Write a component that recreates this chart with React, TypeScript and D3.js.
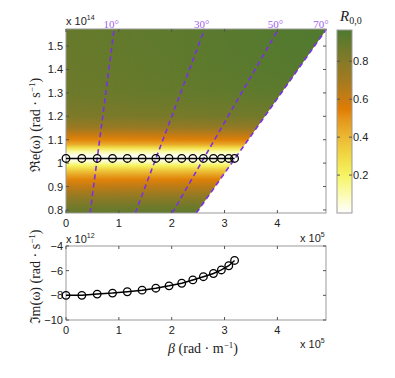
import React, { useRef, useEffect } from 'react';
import * as d3 from 'd3';

// beta in 1e5 rad/m, omega in 1e14 rad/s
const betaPts = [0, 0.30, 0.59, 0.88, 1.16, 1.44, 1.70, 1.95, 2.19, 2.40, 2.60, 2.79, 2.94, 3.08, 3.19];
const reOmega = [1.02, 1.02, 1.02, 1.02, 1.02, 1.02, 1.02, 1.02, 1.02, 1.02, 1.02, 1.02, 1.02, 1.02, 1.02];
const imOmega = [-8.0, -8.0, -7.9, -7.82, -7.71, -7.58, -7.42, -7.23, -7.02, -6.75, -6.49, -6.23, -5.94, -5.6, -5.17];

// reflectance profile R(omega), read at the left and right of the map
const profOmega = [0.787, 0.82, 0.86, 0.9, 0.93, 0.95, 0.97, 0.99, 1.005, 1.02, 1.035, 1.05, 1.065, 1.08, 1.1, 1.12, 1.15, 1.2, 1.3, 1.4, 1.573];
const profLeft = [0.9, 0.84, 0.74, 0.62, 0.53, 0.45, 0.34, 0.2, 0.08, 0.0, 0.03, 0.12, 0.27, 0.43, 0.53, 0.6, 0.72, 0.82, 0.87, 0.88, 0.89];
const profRight = [0.93, 0.88, 0.78, 0.66, 0.56, 0.47, 0.36, 0.22, 0.09, 0.0, 0.03, 0.13, 0.29, 0.45, 0.56, 0.64, 0.76, 0.87, 0.93, 0.95, 0.96];

const angles = [10, 30, 50, 70];
const xTicks = [0, 1, 2, 3, 4];
const yTopTicks = [0.8, 0.9, 1, 1.1, 1.2, 1.3, 1.4, 1.5];
const yBotTicks = [-10, -8, -6, -4];
const cbTicks = [0.2, 0.4, 0.6, 0.8];
const cbStops = [0, 0.1, 0.2, 0.3, 0.4, 0.5, 0.55, 0.6, 0.7, 0.8, 0.9, 0.965];
const cbColors = ['#ffffff', '#fbfbb0', '#f6f462', '#f1d944', '#ebb834', '#e49418', '#e07c02', '#c97c12', '#a37a20', '#857a28', '#647a2c', '#4e7a30'];

const C = 0.2998; // c in (1e14 rad/s)/(1e5 rad/m)

export default function App() {
  const ref = useRef<SVGSVGElement>(null);

  useEffect(() => {
    const svg = d3.select(ref.current);
    svg.selectAll('*').remove();
    const sans = 'Liberation Sans, Arial, sans-serif';
    const serif = 'Liberation Serif, DejaVu Serif, serif';
    const purple = '#7b30e6';

    const x = d3.scaleLinear().domain([0, 4.92]).range([66, 326]);
    const yT = d3.scaleLinear().domain([0.787, 1.573]).range([213, 29]);
    const yB = d3.scaleLinear().domain([-10, -4]).range([320, 246]);
    const cb = d3.scaleLinear().domain([0, 0.965]).range([213, 30]);
    const color = d3.scaleLinear<string>().domain(cbStops).range(cbColors).clamp(true);
    const betaAt = (w: number, th: number) => (w * Math.sin((th * Math.PI) / 180)) / C;

    const defs = svg.append('defs');
    const [w0, w1] = yT.domain();

    // vertical gradients for the map
    const mkGrad = (id: string, prof: number[]) => {
      const g = defs.append('linearGradient').attr('id', id)
        .attr('gradientUnits', 'userSpaceOnUse')
        .attr('x1', 0).attr('x2', 0).attr('y1', yT(w1)).attr('y2', yT(w0));
      profOmega.slice().reverse().forEach((w, i) => {
        const v = prof[prof.length - 1 - i];
        g.append('stop').attr('offset', (yT(w) - yT(w1)) / (yT(w0) - yT(w1))).attr('stop-color', color(v));
      });
    };
    mkGrad('gL', profLeft);
    mkGrad('gR', profRight);

    const hg = defs.append('linearGradient').attr('id', 'hmask')
      .attr('gradientUnits', 'userSpaceOnUse')
      .attr('x1', x(0)).attr('x2', x(4.92)).attr('y1', 0).attr('y2', 0);
    hg.append('stop').attr('offset', 0).attr('stop-color', '#fff').attr('stop-opacity', 0);
    hg.append('stop').attr('offset', 1).attr('stop-color', '#fff').attr('stop-opacity', 1);
    defs.append('mask').attr('id', 'mR').append('rect')
      .attr('x', x(0)).attr('y', yT(w1)).attr('width', x(4.92) - x(0)).attr('height', yT(w0) - yT(w1))
      .attr('fill', 'url(#hmask)');

    const poly = [
      [x(0), yT(w0)], [x(0), yT(w1)],
      [x(betaAt(w1, 70)), yT(w1)], [x(betaAt(w0, 70)), yT(w0)],
    ];
    defs.append('clipPath').attr('id', 'cpoly').append('polygon').attr('points', poly.map(p => p.join(',')).join(' '));
    defs.append('clipPath').attr('id', 'cplot').append('rect')
      .attr('x', x(0)).attr('y', yT(w1) - 1).attr('width', x(4.92) - x(0) + 1).attr('height', yT(w0) - yT(w1) + 1);

    const map = svg.append('g').attr('clip-path', 'url(#cpoly)');
    map.append('rect').attr('x', x(0)).attr('y', yT(w1)).attr('width', x(4.92) - x(0)).attr('height', yT(w0) - yT(w1)).attr('fill', 'url(#gL)');
    map.append('rect').attr('x', x(0)).attr('y', yT(w1)).attr('width', x(4.92) - x(0)).attr('height', yT(w0) - yT(w1)).attr('fill', 'url(#gR)').attr('mask', 'url(#mR)');

    // light lines
    const lines = svg.append('g').attr('clip-path', 'url(#cplot)');
    angles.forEach(a => {
      lines.append('line')
        .attr('x1', x(betaAt(w0, a))).attr('y1', yT(w0))
        .attr('x2', x(betaAt(w1, a))).attr('y2', yT(w1))
        .attr('stroke', purple).attr('stroke-width', 1.6).attr('stroke-dasharray', '5,3.5');
      svg.append('text').attr('x', Math.min(x(betaAt(w1, a)) - 3, 321)).attr('y', 27.5)
        .attr('text-anchor', 'middle').attr('font-family', serif).attr('font-size', 11)
        .attr('fill', '#a060ee').text(`${a}°`);
    });

    // frames, ticks, labels
    const frame = (top: number, bottom: number, yScale: d3.ScaleLinear<number, number>, yt: number[], fmt: (v: number) => string) => {
      svg.append('rect').attr('x', x(0)).attr('y', top).attr('width', x(4.92) - x(0)).attr('height', bottom - top)
        .attr('fill', 'none').attr('stroke', '#999').attr('stroke-width', 1);
      xTicks.forEach(t => {
        svg.append('line').attr('x1', x(t)).attr('x2', x(t)).attr('y1', bottom).attr('y2', bottom - 3).attr('stroke', '#555');
        svg.append('line').attr('x1', x(t)).attr('x2', x(t)).attr('y1', top).attr('y2', top + 3).attr('stroke', '#555');
        svg.append('text').attr('x', x(t)).attr('y', bottom + 14).attr('text-anchor', 'middle')
          .attr('font-family', sans).attr('font-size', 11).attr('fill', '#222').text(t);
      });
      yt.forEach(t => {
        svg.append('line').attr('x1', x(0)).attr('x2', x(0) + 3).attr('y1', yScale(t)).attr('y2', yScale(t)).attr('stroke', '#555');
        svg.append('line').attr('x1', x(4.92)).attr('x2', x(4.92) - 3).attr('y1', yScale(t)).attr('y2', yScale(t)).attr('stroke', '#555');
        svg.append('text').attr('x', x(0) - 3).attr('y', yScale(t) + 4).attr('text-anchor', 'end')
          .attr('font-family', sans).attr('font-size', 11).attr('fill', '#222').text(fmt(t));
      });
    };
    frame(29, 213, yT, yTopTicks, v => String(v));
    frame(246, 320, yB, yBotTicks, v => String(v).replace('-', '−'));

    const expo = (xx: number, yy: number, p: string) => {
      const t = svg.append('text').attr('x', xx).attr('y', yy).attr('font-family', sans).attr('font-size', 11).attr('fill', '#222');
      t.append('tspan').text('x 10');
      t.append('tspan').attr('font-size', 7).attr('dy', -5).text(p);
    };
    expo(66, 25, '14');
    expo(300, 242, '5');
    expo(66, 243, '12');
    expo(300, 348, '5');

    // data lines
    const lineTop = d3.line<number>().x((d, i) => x(betaPts[i])).y(d => yT(d));
    const lineBot = d3.line<number>().x((d, i) => x(betaPts[i])).y(d => yB(d));
    [[reOmega, lineTop, yT], [imOmega, lineBot, yB]].forEach(([vals, ln, ys]: any) => {
      svg.append('path').attr('d', ln(vals)).attr('fill', 'none').attr('stroke', '#000').attr('stroke-width', 1.5);
      svg.append('g').selectAll('circle').data(vals).enter().append('circle')
        .attr('cx', (d, i) => x(betaPts[i])).attr('cy', (d: any) => ys(d)).attr('r', 3.8)
        .attr('fill', 'none').attr('stroke', '#000').attr('stroke-width', 1.3);
    });

    // colorbar
    const cg = defs.append('linearGradient').attr('id', 'cbg').attr('x1', 0).attr('x2', 0).attr('y1', 1).attr('y2', 0);
    cbStops.forEach((s, i) => cg.append('stop').attr('offset', s / 0.965).attr('stop-color', cbColors[i]));
    svg.append('rect').attr('x', 337).attr('y', cb(0.965)).attr('width', 15).attr('height', cb(0) - cb(0.965))
      .attr('fill', 'url(#cbg)').attr('stroke', '#999');
    cbTicks.forEach(t => {
      svg.append('line').attr('x1', 337).attr('x2', 340).attr('y1', cb(t)).attr('y2', cb(t)).attr('stroke', '#555');
      svg.append('line').attr('x1', 352).attr('x2', 349).attr('y1', cb(t)).attr('y2', cb(t)).attr('stroke', '#555');
      svg.append('text').attr('x', 353).attr('y', cb(t) + 4).attr('font-family', sans).attr('font-size', 11).attr('fill', '#222').text(t);
    });
    const rl = svg.append('text').attr('x', 340).attr('y', 21).attr('font-family', serif).attr('font-size', 15).attr('fill', '#222');
    rl.append('tspan').attr('font-style', 'italic').text('R');
    rl.append('tspan').attr('font-size', 10).attr('dy', 3).text('0,0');

    // axis titles
    const yTitle = (cx: number, cy: number, a: string) => {
      const t = svg.append('text').attr('transform', `translate(${cx},${cy}) rotate(-90)`).attr('text-anchor', 'middle')
        .attr('font-family', serif).attr('font-size', 14).attr('fill', '#222');
      t.append('tspan').text(`${a}(ω)  (rad · s`);
      t.append('tspan').attr('font-size', 9).attr('dy', -5).text('−1');
      t.append('tspan').attr('dy', 5).text(')');
    };
    yTitle(40, 125, 'ℜe');
    yTitle(40, 277, 'ℑm');
    const xt = svg.append('text').attr('x', 203).attr('y', 353).attr('text-anchor', 'middle')
      .attr('font-family', serif).attr('font-size', 14).attr('fill', '#222');
    xt.append('tspan').attr('font-style', 'italic').text('β');
    xt.append('tspan').text('  (rad · m');
    xt.append('tspan').attr('font-size', 9).attr('dy', -5).text('−1');
    xt.append('tspan').attr('dy', 5).text(')');
  }, []);

  return (
    <div style={{ position: 'absolute', left: 0, top: 0 }}>
      <svg ref={ref} width={395} height={378} style={{ display: 'block', background: '#fff' }} />
    </div>
  );
}
